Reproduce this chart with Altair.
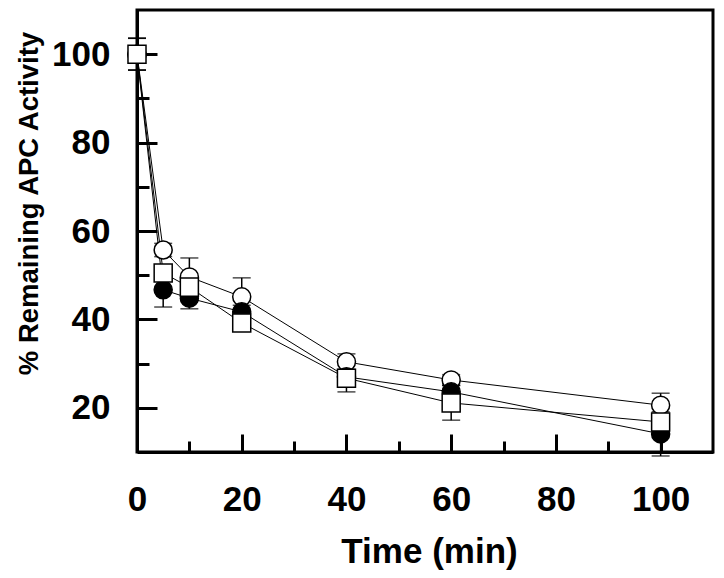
import altair as alt
import pandas as pd

# ---- data ----
times = [0, 5, 10, 20, 40, 60, 100]

open_circle = [100, 55.7, 49.6, 45.1, 30.4, 26.3, 20.6]
open_circle_err = [3.6, 1.5, 4.3, 4.3, 1.8, 1.2, 2.7]

filled_circle = [100, 46.7, 44.8, 41.7, 27.0, 23.6, 14.1]
filled_circle_err = [3.6, 3.9, 2.4, 1.5, 3.4, 1.5, 5.0]

open_square = [100, 50.5, 47.3, 39.2, 26.7, 21.1, 16.8]
open_square_err = [3.6, 1.5, 2.0, 1.0, 2.0, 3.9, 1.5]

x_ticks = [0, 10, 20, 30, 40, 50, 60, 70, 80, 90, 100]
y_ticks = [20, 30, 40, 50, 60, 70, 80, 90, 100]

rows = []
for name, vals, errs in [("open_circle", open_circle, open_circle_err),
                         ("filled_circle", filled_circle, filled_circle_err),
                         ("open_square", open_square, open_square_err)]:
    for t, v, e in zip(times, vals, errs):
        rows.append({"time": t, "series": name, "value": v, "lo": v - e, "hi": v + e})
df = pd.DataFrame(rows)

FONT = "Liberation Sans"

xscale = alt.Scale(domain=[0, 110], nice=False, zero=False)
yscale = alt.Scale(domain=[10, 110], nice=False, zero=False)

xaxis = alt.Axis(
    values=x_ticks, title="Time (min)",
    labelExpr="datum.value % 20 === 0 ? datum.label : ''",
    tickSize=alt.ExprRef(expr="datum.value % 20 === 0 ? -18 : -11"),
    tickWidth=3, tickColor="black", domainWidth=3, domainColor="black",
    labelFont=FONT, labelFontSize=35, labelFontWeight="bold", labelColor="black",
    labelPadding=48, labelFlush=False,
    titleFont=FONT, titleFontSize=35, titleFontWeight="bold", titleColor="black",
    titlePadding=17, titleX=292, grid=False,
)
yaxis = alt.Axis(
    values=y_ticks, title="% Remaining APC Activity",
    labelExpr="datum.value % 20 === 0 ? datum.label : ''",
    tickSize=alt.ExprRef(expr="datum.value % 20 === 0 ? -20 : -12"),
    tickWidth=3, tickColor="black", domainWidth=3, domainColor="black",
    labelFont=FONT, labelFontSize=35, labelFontWeight="bold", labelColor="black",
    labelPadding=47, labelFlush=False,
    titleFont=FONT, titleFontSize=27.5, titleFontWeight="bold", titleColor="black",
    titleAngle=270, titleAlign="center", titleBaseline="alphabetic",
    titleX=-100, titleY=193, grid=False,
)

base = alt.Chart(df)
X = alt.X("time:Q", scale=xscale, axis=xaxis)
Y = alt.Y("value:Q", scale=yscale, axis=yaxis)

lines = base.mark_line(color="black", strokeWidth=1).encode(
    x=X, y=Y, detail="series:N"
)

err_rules = base.mark_rule(color="black", strokeWidth=1.5).encode(
    x="time:Q", y="lo:Q", y2="hi:Q"
)
cap_lo = base.mark_tick(color="black", orient="horizontal", size=18, thickness=1.5).encode(
    x="time:Q", y="lo:Q"
)
cap_hi = base.mark_tick(color="black", orient="horizontal", size=18, thickness=1.5).encode(
    x="time:Q", y="hi:Q"
)

def pts(name, shape, fill):
    return base.transform_filter(alt.datum.series == name).mark_point(
        shape=shape, size=325, filled=True, fill=fill, stroke="black",
        strokeWidth=1.5, opacity=1
    ).encode(x="time:Q", y="value:Q")

chart = alt.layer(
    lines, err_rules, cap_lo, cap_hi,
    pts("open_circle", "circle", "white"),
    pts("filled_circle", "circle", "black"),
    pts("open_square", "square", "white"),
).properties(
    width=576, height=442,
    autosize=alt.AutoSizeParams(type="none"),
    padding={"left": 129, "top": 2, "right": 3, "bottom": 118},
    background="white",
).configure_view(
    stroke="black", strokeWidth=3
)

chart.save("out.html", embed_options={"renderer": "svg", "actions": False})
